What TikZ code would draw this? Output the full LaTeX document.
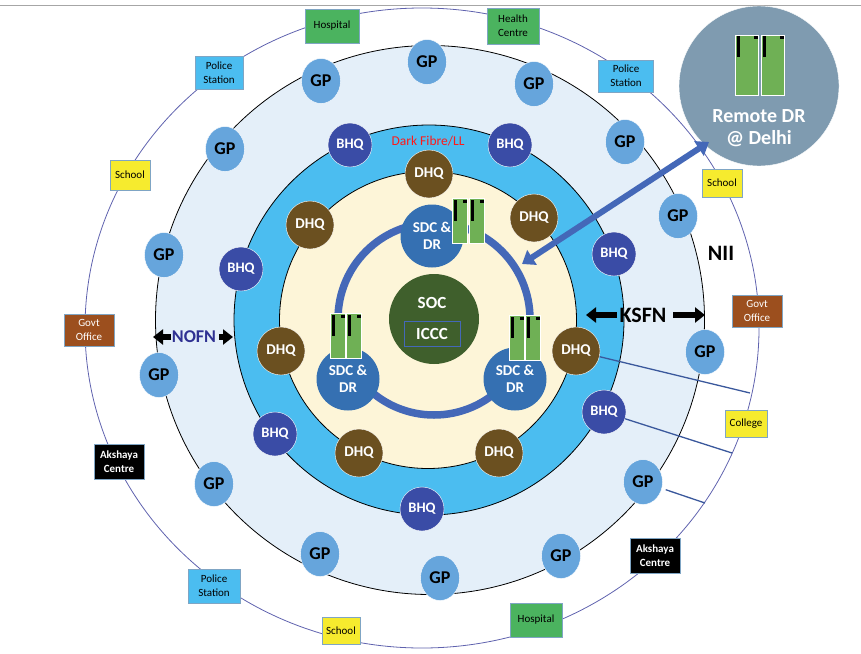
\documentclass[tikz,border=0pt]{standalone}
\usepackage{fontspec}
\setmainfont{Carlito}
\usepackage{tikz}
\usetikzlibrary{shapes.geometric}
\usetikzlibrary{arrows.meta,positioning}
\definecolor{ringlight}{HTML}{E4EFF9}
\definecolor{ringblue}{HTML}{4BBDF0}
\definecolor{ringcream}{HTML}{FDF5D8}
\definecolor{gpblue}{HTML}{66A5DC}
\definecolor{bhqblue}{HTML}{3A4CA6}
\definecolor{dhqbrown}{HTML}{6B5020}
\definecolor{sdcblue}{HTML}{3570B2}
\definecolor{socgreen}{HTML}{3F5F2C}
\definecolor{linkblue}{HTML}{4468B8}
\definecolor{nofnblue}{HTML}{2F3192}
\definecolor{outerblue}{HTML}{5F62AE}
\definecolor{remotegrey}{HTML}{7F9BB0}
\definecolor{rackgreen}{HTML}{6FB055}
\definecolor{hospgreen}{HTML}{4BB35F}
\definecolor{policeblue}{HTML}{4BBDF0}
\definecolor{schoolyellow}{HTML}{F6EB2E}
\definecolor{govtbrown}{HTML}{9C4F1E}
\definecolor{boxedge}{HTML}{7FA5C4}

\begin{document}
\begin{tikzpicture}[-,auto,x=1pt,y=-1pt]
\tikzstyle{ring}=[circle,draw=black,line width=0.8pt,inner sep=0pt]
\tikzstyle{gp}=[ellipse,fill=gpblue,draw=white,line width=0.4pt,minimum width=39pt,minimum height=45pt,inner sep=0pt,font=\fontsize{18}{19}\selectfont\bfseries]
\tikzstyle{bhq}=[circle,fill=bhqblue,draw=white,line width=0.4pt,minimum size=44pt,inner sep=0pt,text=white,font=\fontsize{14.5}{15}\selectfont\bfseries]
\tikzstyle{dhq}=[circle,fill=dhqbrown,draw=white,line width=0.4pt,minimum size=48pt,inner sep=0pt,text=white,font=\fontsize{15}{16}\selectfont\bfseries]
\tikzstyle{sdc}=[circle,fill=sdcblue,minimum size=63pt,inner sep=0pt,align=center,text=white,font=\fontsize{15}{17}\selectfont\bfseries]
\tikzstyle{rack}=[rectangle,fill=rackgreen,draw=white,line width=0.6pt,minimum width=15pt,minimum height=45pt,inner sep=0pt,
  path picture={\fill[black] ([xshift=1.5pt,yshift=-1pt]path picture bounding box.north west) rectangle ([xshift=4pt,yshift=-22pt]path picture bounding box.north west);
  \fill[black] ([xshift=-5pt,yshift=-1pt]path picture bounding box.north east) rectangle ([xshift=-1pt,yshift=-4pt]path picture bounding box.north east);}]
\tikzstyle{tag}=[rectangle,draw=boxedge,line width=0.6pt,align=center,inner sep=0pt,font=\fontsize{11}{14}\selectfont]
\tikzstyle{hospital}=[tag,fill=hospgreen]
\tikzstyle{police}=[tag,fill=policeblue]
\tikzstyle{school}=[tag,fill=schoolyellow]
\tikzstyle{govt}=[tag,fill=govtbrown,text=white]
\tikzstyle{akshaya}=[tag,fill=black,text=white,font=\fontsize{11}{14}\selectfont\bfseries]
\tikzstyle{branch}=[draw=linkblue!85!black,line width=1.3pt]
\tikzstyle{bigarrow}=[-{Triangle[length=10pt,width=15pt]},line width=6pt,draw=black]
\useasboundingbox (0,0) rectangle (861,653);
\draw [gray!70,line width=0.8pt] (0,5) -- (861,5);
\node [ellipse,draw=outerblue,line width=0.8pt,minimum width=674pt,minimum height=640pt,inner sep=0pt] (outer) at(422,328) {};
\node [ring,fill=ringlight,minimum size=549pt] (light) at(430,320) {};
\node [ring,fill=ringblue,minimum size=390pt] (blue) at(429,320) {};
\node [ring,fill=ringcream,minimum size=297pt] (cream) at(428,320) {};
% ring of the data centres
\node [circle,draw=linkblue,line width=7.5pt,minimum size=192pt,inner sep=0pt] (sdcring) at(434,319) {};
\node [sdc] (sdc0) at(432,236) {SDC \&\\DR};
\node [sdc] (sdc1) at(348,379) {SDC \&\\DR};
\node [sdc] (sdc2) at(515,379) {SDC \&\\DR};
\node [circle,fill=socgreen,minimum size=90pt,inner sep=0pt] (soc) at(434,319) {};
\node [text=white,font=\fontsize{17}{18}\selectfont\bfseries] (soclabel) at(432,303) {SOC};
\node [rectangle,draw=linkblue,line width=0.6pt,minimum width=56pt,minimum height=25pt,inner sep=0pt,text=white,font=\fontsize{17}{18}\selectfont\bfseries] (iccc) at(432,334) {ICCC};
% racks
\node [rack] (r0) at(460,221) {};
\node [rack] (r1) at(477,221) {};
\node [rack] (r2) at(338,336) {};
\node [rack] (r3) at(354,336) {};
\node [rack] (r4) at(517,338) {};
\node [rack] (r5) at(533,338) {};
% DHQ
\node [dhq] (d0) at(429,174) {DHQ};
\node [dhq] (d1) at(534,218) {DHQ};
\node [dhq] (d2) at(576,351) {DHQ};
\node [dhq] (d3) at(499,453) {DHQ};
\node [dhq] (d4) at(359,453) {DHQ};
\node [dhq] (d5) at(281,351) {DHQ};
\node [dhq] (d6) at(310,225) {DHQ};
% BHQ
\node [bhq] (b0) at(350,145) {BHQ};
\node [bhq] (b1) at(510,145) {BHQ};
\node [bhq] (b2) at(614,254) {BHQ};
\node [bhq] (b3) at(604,412) {BHQ};
\node [bhq] (b4) at(422,509) {BHQ};
\node [bhq] (b5) at(275,434) {BHQ};
\node [bhq] (b6) at(241,269) {BHQ};
% GP
\node [gp] (g0) at(321,81) {GP};
\node [gp] (g1) at(427,62) {GP};
\node [gp] (g2) at(534,84) {GP};
\node [gp] (g3) at(625,142) {GP};
\node [gp] (g4) at(678,216) {GP};
\node [gp] (g5) at(705,352) {GP};
\node [gp] (g6) at(643,482) {GP};
\node [gp] (g7) at(561,556) {GP};
\node [gp] (g8) at(440,578) {GP};
\node [gp] (g9) at(320,554) {GP};
\node [gp] (g10) at(214,484) {GP};
\node [gp] (g11) at(159,375) {GP};
\node [gp] (g12) at(164,255) {GP};
\node [gp] (g13) at(225,149) {GP};
% outer boxes
\node [hospital,minimum width=54pt,minimum height=34pt] (t0) at(332,26) {Hospital};
\node [hospital,minimum width=52pt,minimum height=36pt] (t1) at(513,26) {Health\\Centre};
\node [police,minimum width=48pt,minimum height=33pt] (t2) at(219,73) {Police\\Station};
\node [police,minimum width=55pt,minimum height=32pt] (t3) at(626,76) {Police\\Station};
\node [school,minimum width=40pt,minimum height=30pt] (t4) at(130,175) {School};
\node [school,minimum width=40pt,minimum height=28pt] (t5) at(722,183) {School};
\node [govt,minimum width=50pt,minimum height=32pt] (t6) at(89,330) {Govt\\Office};
\node [govt,minimum width=50pt,minimum height=32pt] (t7) at(757,311) {Govt\\Office};
\node [school,minimum width=42pt,minimum height=27pt] (t8) at(746,424) {College};
\node [akshaya,minimum width=50pt,minimum height=35pt] (t9) at(119,462) {Akshaya\\Centre};
\node [akshaya,minimum width=50pt,minimum height=35pt] (t10) at(655,556) {Akshaya\\Centre};
\node [police,minimum width=52pt,minimum height=34pt] (t11) at(214,586) {Police\\Station};
\node [school,minimum width=38pt,minimum height=27pt] (t12) at(341,631) {School};
\node [hospital,minimum width=52pt,minimum height=34pt] (t13) at(536,620) {Hospital};
% remote site
\node [circle,fill=remotegrey,draw=white,line width=0.4pt,minimum size=160pt,inner sep=0pt] (remote) at(759,86) {};
\node [rack,line width=1pt,minimum width=23pt,minimum height=60pt] (r6) at(747,65) {};
\node [rack,line width=1pt,minimum width=23pt,minimum height=60pt] (r7) at(773,65) {};
\node [text=white,align=center,font=\fontsize{20}{22}\selectfont\bfseries] (remotelabel) at(759,128) {Remote DR\\@ Delhi};
% links
\coordinate (e0) at(709,142);
\coordinate (e1) at(522,264);
\coordinate (c0) at(750,393);
\coordinate (c1) at(732,453);
\coordinate (c2) at(705,503);
\draw [{Triangle[length=12pt,width=17pt]}-{Triangle[length=12pt,width=17pt]},line width=6pt,draw=linkblue] (e0) -- (e1);
\path [branch] (d2) -- (c0);
\path [branch] (b3) -- (c1);
\path [branch,shorten <=4pt] (g6) -- (c2);
% ring labels
\coordinate (k0) at(586,315);
\coordinate (k1) at(617,315);
\coordinate (k2) at(673,315);
\coordinate (k3) at(705,315);
\coordinate (n0) at(153,337);
\coordinate (n1) at(171,337);
\coordinate (n2) at(219,337);
\coordinate (n3) at(233,337);
\draw [bigarrow] (k1) -- (k0);
\draw [bigarrow] (k2) -- (k3);
\draw [bigarrow] (n1) -- (n0);
\draw [bigarrow] (n2) -- (n3);
\node [text=red!90!white,font=\fontsize{13.5}{14}\selectfont] (dark) at(428,141) {Dark Fibre/LL};
\node [font=\fontsize{22}{23}\selectfont\bfseries] (nii) at(721,253) {NII};
\node [font=\fontsize{22}{23}\selectfont\bfseries] (ksfn) at(643,315) {KSFN};
\node [text=nofnblue,font=\fontsize{18}{19}\selectfont\bfseries] (nofn) at(194,337) {NOFN};
\end{tikzpicture}
\end{document}
